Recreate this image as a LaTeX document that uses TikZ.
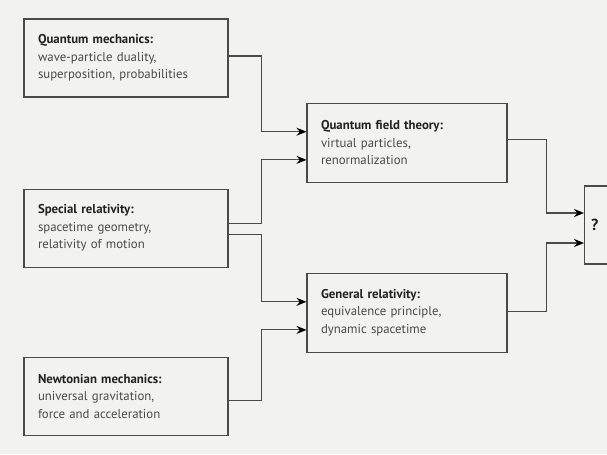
\documentclass[tikz,border=0pt]{standalone}
\usepackage{fontspec}
\setmainfont{PT Sans}
\usepackage{xcolor}
\usepackage{tikz}
\usetikzlibrary{arrows.meta,positioning}

\definecolor{paper}{HTML}{F2F2F1}
\definecolor{frame}{HTML}{4A4A4A}
\definecolor{bodytext}{HTML}{4A4A4A}
\definecolor{headtext}{HTML}{222222}

\begin{document}
\begin{tikzpicture}[every node/.style={font=\fontsize{9.6pt}{13.1pt}\selectfont}]
\tikzstyle{box}=[draw=frame,line width=0.8pt,rectangle,minimum width=153pt,minimum height=58.5pt,text width=132pt,inner xsep=10.5pt,align=left,text=bodytext]
\tikzstyle{link}=[draw=frame,line width=0.8pt,-{Stealth[length=7.5pt,width=6pt,inset=2.5pt,black]}]
\newcommand{\head}[1]{\textbf{\color{headtext}#1:}}
\fill[paper] (0,0) rectangle (455.25pt,-340.5pt);
\useasboundingbox (0,0) rectangle (455.25pt,-340.5pt);
% sources
\node[box] (qm) at (94.5pt,-43.5pt) {\head{Quantum mechanics}\\wave-particle duality,\\superposition, probabilities};
\node[box,below=68.25pt of qm] (sr) {\head{Special relativity}\\spacetime geometry,\\relativity of motion};
\node[box,below=66.75pt of sr] (nm) {\head{Newtonian mechanics}\\universal gravitation,\\force and acceleration};
% theories
\node[box,minimum width=150pt,minimum height=59.25pt,text width=129pt] (qft) at (305.25pt,-106.9pt) {\head{Quantum field theory}\\virtual particles,\\renormalization};
\node[box,minimum width=150pt,minimum height=59.25pt,text width=129pt,below=67.5pt of qft] (gr) {\head{General relativity}\\equivalence principle,\\dynamic spacetime};
\node[draw=frame,line width=0.8pt,minimum width=40pt,minimum height=58.5pt,anchor=west,font=\fontsize{12pt}{14pt}\selectfont\bfseries,text=headtext,align=left,text width=30pt,inner xsep=5pt] (goal) at (438pt,-168.75pt) {?};

\draw[link] ([yshift=1.5pt]qm.east) -- ++(24.75pt,0) |- ([yshift=8.1pt]qft.west);
\draw[link] ([yshift=3.75pt]sr.east) -- ++(24.75pt,0) |- ([yshift=-13pt]qft.west);
\draw[link] ([yshift=-4.5pt]sr.east) -- ++(24.75pt,0) |- ([yshift=8.1pt]gr.west);
\draw[link] ([yshift=-3pt]nm.east) -- ++(24.75pt,0) |- ([yshift=-13pt]gr.west);
\draw[link] ([yshift=2.6pt]qft.east) -- ++(29.25pt,0) |- ([yshift=9pt]goal.west);
\draw[link] ([yshift=1.1pt]gr.east) -- ++(29.25pt,0) |- ([yshift=-13.5pt]goal.west);
\end{tikzpicture}
\end{document}
